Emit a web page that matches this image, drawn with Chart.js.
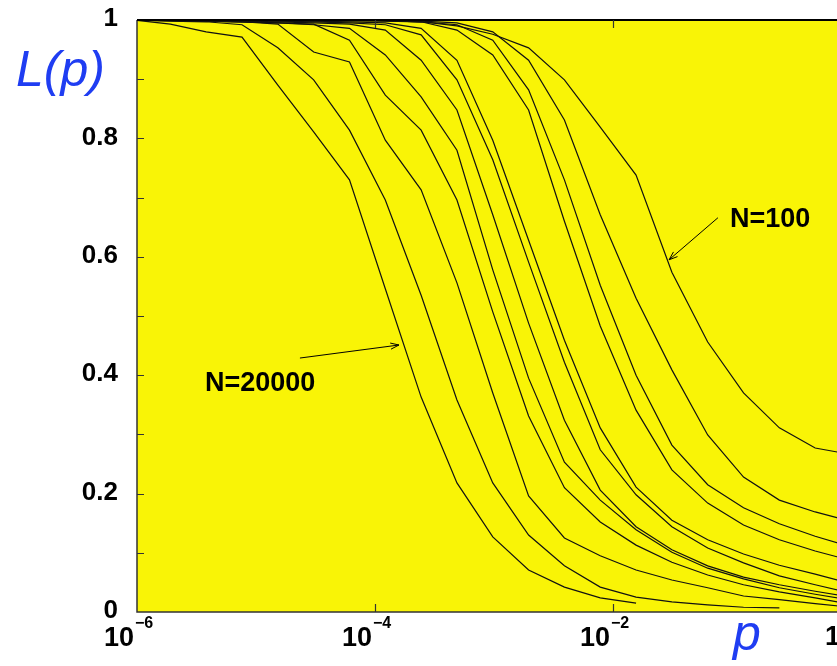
<!DOCTYPE html>
<html>
<head>
<meta charset="utf-8">
<script src="https://cdn.jsdelivr.net/npm/chart.js@4.4.0/dist/chart.umd.min.js"></script>
<style>
  html, body { margin: 0; padding: 0; background: #fff; overflow: hidden; }
  #wrap { width: 837px; height: 666px; overflow: hidden; }
</style>
</head>
<body>
<div id="wrap"><canvas id="lp" width="880" height="666"></canvas></div>
<script>
// p = 2^-20 ... 2^0
const pValues = [9.5367431640625e-7, 0.0000019073486328125, 0.000003814697265625, 0.00000762939453125,
  0.0000152587890625, 0.000030517578125, 0.00006103515625, 0.0001220703125, 0.000244140625,
  0.00048828125, 0.0009765625, 0.001953125, 0.00390625, 0.0078125, 0.015625, 0.03125,
  0.0625, 0.125, 0.25, 0.5, 1];

// L(p) curves, largest N first (N=20000 ... N=100)
const curve1  = [1.0, 0.993, 0.980, 0.971, 0.890, 0.811, 0.730, 0.546, 0.363, 0.218, 0.127, 0.071, 0.042, 0.024, 0.015, null, null, null, null, null, null];
const curve2  = [1.0, 0.998, 0.997, 0.992, 0.953, 0.899, 0.814, 0.696, 0.535, 0.358, 0.218, 0.130, 0.078, 0.042, 0.025, 0.017, 0.012, 0.008, 0.007, null, null];
const curve3  = [1.0, 0.999, 0.998, 0.997, 0.993, 0.946, 0.929, 0.797, 0.713, 0.556, 0.370, 0.196, 0.125, 0.095, 0.071, 0.054, 0.041, 0.027, 0.021, 0.014, 0.008];
const curve4  = [1.0, 1.0, 0.998, 0.997, 0.995, 0.993, 0.966, 0.873, 0.814, 0.696, 0.507, 0.331, 0.210, 0.152, 0.113, 0.084, 0.0625, 0.046, 0.034, 0.024, 0.013];
const curve5  = [1.0, 0.999, 0.998, 0.997, 0.995, 0.992, 0.986, 0.941, 0.870, 0.780, 0.578, 0.395, 0.253, 0.189, 0.139, 0.101, 0.074, 0.056, 0.041, 0.030, 0.020];
const curve6  = [1.0, 1.0, 0.999, 0.998, 0.997, 0.995, 0.993, 0.983, 0.932, 0.848, 0.671, 0.488, 0.324, 0.206, 0.144, 0.105, 0.078, 0.059, 0.046, 0.035, 0.025];
const curve7  = [1.0, 1.0, 1.0, 0.999, 0.998, 0.997, 0.995, 0.992, 0.975, 0.899, 0.764, 0.591, 0.422, 0.274, 0.198, 0.144, 0.108, 0.083, 0.061, 0.046, 0.032];
const curve8  = [1.0, 1.0, 1.0, 1.0, 0.999, 0.998, 0.997, 0.995, 0.986, 0.932, 0.797, 0.628, 0.459, 0.311, 0.211, 0.155, 0.122, 0.098, 0.079, 0.064, 0.048];
const curve9  = [1.0, 1.0, 1.0, 1.0, 1.0, 0.999, 0.999, 0.998, 0.997, 0.983, 0.941, 0.848, 0.660, 0.483, 0.341, 0.240, 0.184, 0.147, 0.122, 0.103, 0.087];
const curve10 = [1.0, 1.0, 1.0, 1.0, 1.0, 1.0, 0.999, 0.999, 0.997, 0.992, 0.966, 0.882, 0.730, 0.552, 0.400, 0.282, 0.215, 0.176, 0.149, 0.128, 0.110];
const curve11 = [1.0, 1.0, 1.0, 1.0, 1.0, 1.0, 1.0, 0.999, 0.998, 0.995, 0.980, 0.932, 0.831, 0.671, 0.530, 0.409, 0.299, 0.228, 0.189, 0.169, 0.153];
const curve12 = [1.0, 1.0, 1.0, 1.0, 1.0, 1.0, 1.0, 0.999, 0.997, 0.990, 0.976, 0.953, 0.899, 0.819, 0.738, 0.574, 0.456, 0.370, 0.311, 0.277, 0.266];

const allCurves = [curve1, curve2, curve3, curve4, curve5, curve6, curve7, curve8, curve9, curve10, curve11, curve12];

const yTickValues = [0, 0.2, 0.4, 0.6, 0.8, 1];
const yTickLabels = ['0', '0.2', '0.4', '0.6', '0.8', '1'];
const yMinorTicks = [0.1, 0.2, 0.3, 0.4, 0.5, 0.6, 0.7, 0.8, 0.9];
const xTickValues = [1e-6, 1e-4, 1e-2];
const xTickExps = ['\u22126', '\u22124', '\u22122'];

// labels with arrows, in data coordinates
const notes = [
  { text: 'N=100',   p: 0.0962,  L: 0.650, from: [0.0762, 0.666],  to: [0.0296, 0.595] },
  { text: 'N=20000', p: 3.73e-6, L: 0.373, from: [2.34e-5, 0.429], to: [1.59e-4, 0.451] }
];

const datasets = allCurves.map(function (vals) {
  return {
    data: pValues.map(function (p, i) { return { x: p, y: vals[i] }; }),
    borderColor: '#111',
    borderWidth: 1.2,
    pointRadius: 0,
    tension: 0,
    fill: false,
    spanGaps: false
  };
});

const framePlugin = {
  id: 'frame',
  beforeDraw(chart) {
    const ctx = chart.ctx, a = chart.chartArea;
    ctx.save();
    ctx.fillStyle = '#f9f406';
    ctx.fillRect(a.left, a.top, a.right - a.left, a.bottom - a.top);
    ctx.restore();
  },
  afterDatasetsDraw(chart) {
    const ctx = chart.ctx, a = chart.chartArea;
    const x = chart.scales.x, y = chart.scales.y;
    ctx.save();

    // frame
    ctx.strokeStyle = '#333';
    ctx.lineWidth = 1.5;
    ctx.beginPath();
    ctx.moveTo(a.left, a.top); ctx.lineTo(a.right, a.top);
    ctx.moveTo(a.left, a.top); ctx.lineTo(a.left, a.bottom);
    ctx.lineTo(a.right, a.bottom);
    ctx.stroke();
    ctx.lineWidth = 2;
    ctx.strokeStyle = '#000';
    ctx.beginPath();
    ctx.moveTo(a.left, a.top); ctx.lineTo(a.right, a.top);
    ctx.stroke();

    // inside ticks
    ctx.lineWidth = 1.2;
    ctx.strokeStyle = '#333';
    ctx.beginPath();
    yMinorTicks.forEach(function (v) {
      const py = Math.round(y.getPixelForValue(v)) + 0.5;
      ctx.moveTo(a.left, py); ctx.lineTo(a.left + 7, py);
    });
    xTickValues.slice(1).forEach(function (v) {
      const px = Math.round(x.getPixelForValue(v)) + 0.5;
      ctx.moveTo(px, a.bottom); ctx.lineTo(px, a.bottom - 8);
      ctx.moveTo(px, a.top); ctx.lineTo(px, a.top + 8);
    });
    ctx.stroke();

    // y tick labels
    ctx.fillStyle = '#000';
    ctx.font = 'bold 26px "Liberation Sans", Arial, sans-serif';
    ctx.textAlign = 'right';
    ctx.textBaseline = 'middle';
    yTickValues.forEach(function (v, i) {
      ctx.fillText(yTickLabels[i], a.left - 19, y.getPixelForValue(v) - 1);
    });

    // x tick labels 10^n
    ctx.textBaseline = 'alphabetic';
    xTickValues.forEach(function (v, i) {
      const px = x.getPixelForValue(v);
      ctx.font = 'bold 27px "Liberation Sans", Arial, sans-serif';
      ctx.textAlign = 'right';
      ctx.fillText('10', px - 3, a.bottom + 34);
      ctx.font = 'bold 16px "Liberation Sans", Arial, sans-serif';
      ctx.textAlign = 'left';
      ctx.fillText(xTickExps[i], px - 2, a.bottom + 16);
    });
    ctx.font = 'bold 27px "Liberation Sans", Arial, sans-serif';
    ctx.textAlign = 'left';
    ctx.fillText('1', x.getPixelForValue(1) - 26, a.bottom + 33);

    // axis titles
    ctx.fillStyle = '#1f3df2';
    ctx.font = 'italic 50px "Liberation Sans", Arial, sans-serif';
    ctx.textAlign = 'left';
    ctx.fillText('L(p)', 16, 86);
    ctx.fillText('p', 733, a.bottom + 38);

    // annotations
    ctx.fillStyle = '#000';
    ctx.strokeStyle = '#000';
    ctx.lineWidth = 1;
    ctx.font = 'bold 27px "Liberation Sans", Arial, sans-serif';
    notes.forEach(function (n) {
      ctx.fillText(n.text, x.getPixelForValue(n.p), y.getPixelForValue(n.L));
      const x0 = x.getPixelForValue(n.from[0]), y0 = y.getPixelForValue(n.from[1]);
      const x1 = x.getPixelForValue(n.to[0]), y1 = y.getPixelForValue(n.to[1]);
      const ang = Math.atan2(y1 - y0, x1 - x0);
      ctx.beginPath();
      ctx.moveTo(x0, y0); ctx.lineTo(x1, y1);
      ctx.moveTo(x1, y1); ctx.lineTo(x1 - 9 * Math.cos(ang - 0.35), y1 - 9 * Math.sin(ang - 0.35));
      ctx.moveTo(x1, y1); ctx.lineTo(x1 - 9 * Math.cos(ang + 0.35), y1 - 9 * Math.sin(ang + 0.35));
      ctx.stroke();
    });

    ctx.restore();
  }
};

new Chart(document.getElementById('lp'), {
  type: 'line',
  data: { datasets: datasets },
  options: {
    responsive: false,
    animation: false,
    layout: { padding: { left: 137, top: 20, right: 29, bottom: 54 } },
    plugins: { legend: { display: false }, tooltip: { enabled: false } },
    scales: {
      x: { type: 'logarithmic', min: 1e-6, max: 1, display: false },
      y: { type: 'linear', min: 0, max: 1, display: false }
    }
  },
  plugins: [framePlugin]
});
</script>
</body>
</html>
